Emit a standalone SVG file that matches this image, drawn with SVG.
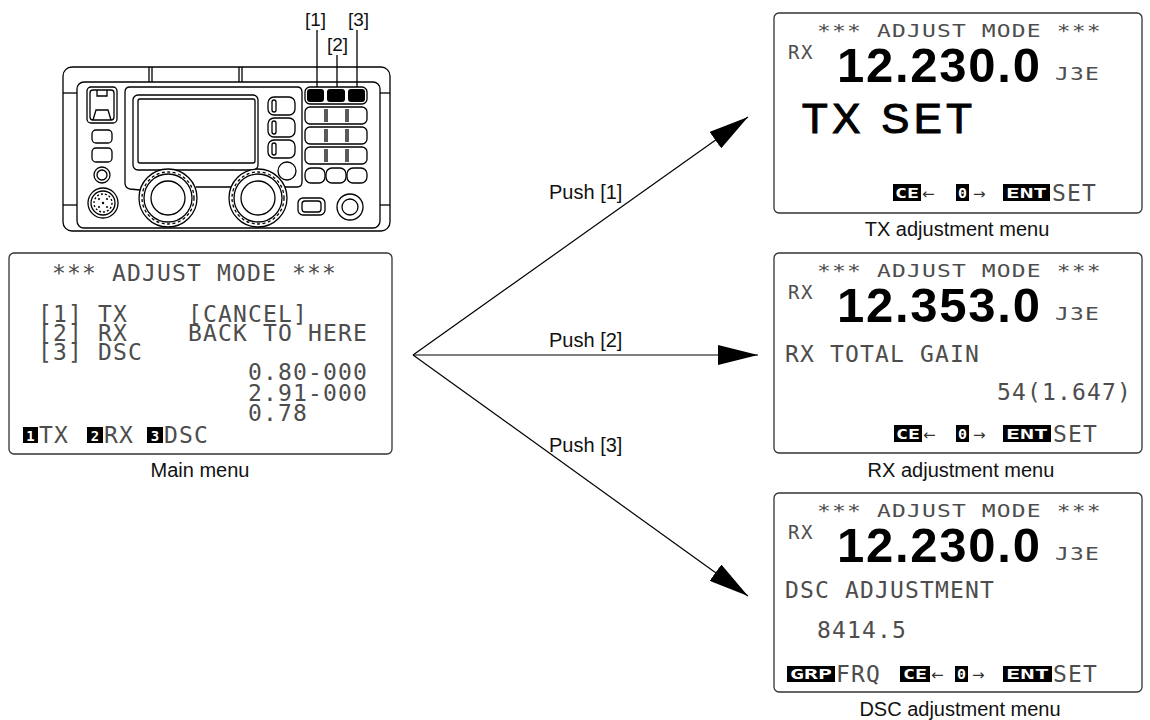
<svg xmlns="http://www.w3.org/2000/svg" width="1150" height="720" viewBox="0 0 1150 720">
<style>
.lcd{font-family:"DejaVu Sans Mono","Liberation Mono",monospace;font-size:23px;letter-spacing:1.15px;fill:#4d4d4d}
.lcds{font-family:"DejaVu Sans Mono","Liberation Mono",monospace;font-size:19px;letter-spacing:1.5px;fill:#4d4d4d}
.inv{font-family:"DejaVu Sans Mono","Liberation Mono",monospace;font-size:14px;font-weight:bold;fill:#fff}
.arr{font-family:"DejaVu Sans","Liberation Sans",sans-serif;font-size:15px;fill:#333}
.big{font-family:"Liberation Sans",Arial,sans-serif;font-weight:bold;fill:#000}
.mid{font-family:"Liberation Sans",Arial,sans-serif;fill:#000;stroke:#000;stroke-width:1.2}
.cap{font-family:"Liberation Sans",Arial,sans-serif;font-size:20px;fill:#111}
.box{fill:#fff;stroke:#333;stroke-width:1.3}
.r{fill:#fff;stroke:#000;stroke-width:1.3}
.rn{fill:none;stroke:#000;stroke-width:1.3}
.blk{fill:#000}
.conn{stroke:#000;stroke-width:1.2;fill:none}
</style>
<defs>
<marker id="ah" markerUnits="userSpaceOnUse" markerWidth="40" markerHeight="20" refX="40" refY="10" orient="auto">
<path d="M0,0 L40,10 L0,20 Z" fill="#000"/>
</marker>
</defs>

<g id="radio">
<text class="cap" x="305" y="26" style="font-size:19px">[1]</text>
<text class="cap" x="327" y="51" style="font-size:19px">[2]</text>
<text class="cap" x="348" y="26" style="font-size:19px">[3]</text>
<rect class="r" x="63" y="67" width="327" height="164" rx="9"/>
<rect class="r" x="77" y="82" width="303" height="146" rx="7"/>
<line class="rn" x1="149" y1="67" x2="149" y2="82"/><line class="rn" x1="152" y1="67" x2="152" y2="82"/>
<line class="rn" x1="239" y1="67" x2="239" y2="82"/><line class="rn" x1="242" y1="67" x2="242" y2="82"/>
<line class="rn" x1="63" y1="93" x2="77" y2="93"/><line class="rn" x1="63" y1="205" x2="77" y2="205"/>
<line class="rn" x1="380" y1="93" x2="390" y2="93"/><line class="rn" x1="380" y1="205" x2="390" y2="205"/>
<line class="rn" x1="317" y1="30" x2="317" y2="88"/>
<line class="rn" x1="337" y1="55" x2="337" y2="88"/>
<line class="rn" x1="357" y1="30" x2="357" y2="88"/>
<rect class="r" x="87" y="87" width="30" height="36" rx="4"/>
<rect class="rn" x="90" y="90" width="24" height="30" rx="3"/>
<path class="rn" d="M97,90 V96 H107 V90"/>
<path class="rn" d="M93,120 L96,110 H108 L111,120"/>
<rect class="r" x="92" y="130" width="20" height="13" rx="4"/>
<rect class="r" x="92" y="148" width="20" height="14" rx="4"/>
<circle class="r" cx="102" cy="175" r="8"/><circle class="rn" cx="102" cy="175" r="5"/>
<circle class="r" cx="103" cy="203" r="15"/><circle class="rn" cx="103" cy="203" r="12"/>
<circle class="rn" cx="103" cy="203" r="9" stroke-dasharray="2 2"/>
<circle class="blk" cx="103" cy="203" r="1.2"/><circle class="blk" cx="99" cy="199" r="1"/><circle class="blk" cx="107" cy="199" r="1"/><circle class="blk" cx="99" cy="207" r="1"/><circle class="blk" cx="107" cy="207" r="1"/>
<path class="r" d="M130,87 H297 Q302,87 302,92 V182 Q302,187 297,187 H196 M130,87 Q125,87 125,92 V183 Q125,188 130,189 L140,190"/>
<rect class="r" x="133" y="95" width="125" height="75" rx="5"/>
<rect class="rn" x="138" y="99" width="117" height="64" rx="2"/>
<rect class="r" x="268" y="97" width="27" height="18" rx="6"/><rect class="rn" x="272" y="100" width="4" height="12" rx="2"/>
<rect class="r" x="268" y="118" width="27" height="19" rx="6"/><rect class="rn" x="272" y="121" width="4" height="13" rx="2"/>
<rect class="r" x="268" y="140" width="27" height="18" rx="6"/><rect class="rn" x="272" y="143" width="4" height="12" rx="2"/>
<circle class="r" cx="287" cy="171" r="9"/>
<circle class="r" cx="168" cy="198" r="29"/>
<circle class="rn" cx="168" cy="198" r="26" stroke-dasharray="3 2.5"/>
<circle class="rn" cx="168" cy="198" r="24"/>
<circle class="r" cx="168" cy="198" r="17"/>
<circle class="r" cx="258" cy="198" r="29"/>
<circle class="rn" cx="258" cy="198" r="26" stroke-dasharray="3 2.5"/>
<circle class="rn" cx="258" cy="198" r="24"/>
<circle class="r" cx="258" cy="198" r="17"/>
<rect class="r" x="305" y="87" width="62" height="17" rx="5"/>
<rect class="blk" x="307" y="89" width="17" height="13" rx="3"/>
<rect class="blk" x="327" y="89" width="18" height="13" rx="3"/>
<rect class="blk" x="348" y="89" width="17" height="13" rx="3"/>
<rect class="r" x="305" y="107" width="62" height="17" rx="5"/>
<line class="rn" x1="325" y1="109" x2="325" y2="122"/><line class="rn" x1="327" y1="109" x2="327" y2="122"/>
<line class="rn" x1="346" y1="109" x2="346" y2="122"/><line class="rn" x1="348" y1="109" x2="348" y2="122"/>
<rect class="r" x="305" y="127" width="62" height="17" rx="5"/>
<line class="rn" x1="325" y1="129" x2="325" y2="142"/><line class="rn" x1="327" y1="129" x2="327" y2="142"/>
<line class="rn" x1="346" y1="129" x2="346" y2="142"/><line class="rn" x1="348" y1="129" x2="348" y2="142"/>
<rect class="r" x="305" y="147" width="62" height="17" rx="5"/>
<line class="rn" x1="325" y1="149" x2="325" y2="162"/><line class="rn" x1="327" y1="149" x2="327" y2="162"/>
<line class="rn" x1="346" y1="149" x2="346" y2="162"/><line class="rn" x1="348" y1="149" x2="348" y2="162"/>
<rect class="r" x="305" y="168" width="20" height="15" rx="6"/>
<rect class="r" x="326" y="168" width="20" height="15" rx="6"/>
<rect class="r" x="347" y="168" width="20" height="15" rx="6"/>
<rect class="r" x="298" y="198" width="27" height="17" rx="5"/><rect class="rn" x="302" y="201" width="19" height="11" rx="3"/>
<circle class="r" cx="350" cy="207" r="13" stroke-width="2"/><circle class="rn" cx="350" cy="207" r="8" stroke-width="2"/>
</g>

<g id="main-menu">
<rect class="box" x="9" y="253" width="383" height="201" rx="5"/>
<text class="lcd" x="52" y="281">*** ADJUST MODE ***</text>
<text class="lcd"><tspan x="38" y="322">[1] TX</tspan><tspan x="38" y="341">[2] RX</tspan><tspan x="38" y="360">[3] DSC</tspan></text>
<text class="lcd"><tspan x="188" y="322">[CANCEL]</tspan><tspan x="188" y="341">BACK TO HERE</tspan></text>
<text class="lcd"><tspan x="248" y="380">0.80-000</tspan><tspan x="248" y="401">2.91-000</tspan><tspan x="248" y="421">0.78</tspan></text>
<rect class="blk" x="23" y="427" width="15" height="16"/><text class="inv" x="30.5" y="441" text-anchor="middle">1</text>
<text class="lcd" x="39" y="443">TX</text>
<rect class="blk" x="87" y="427" width="16" height="16"/><text class="inv" x="95" y="441" text-anchor="middle">2</text>
<text class="lcd" x="104" y="443">RX</text>
<rect class="blk" x="147" y="427" width="16" height="16"/><text class="inv" x="155" y="441" text-anchor="middle">3</text>
<text class="lcd" x="164" y="443">DSC</text>
<text class="cap" x="200" y="477" text-anchor="middle">Main menu</text>
</g>

<g id="tx-menu" transform="translate(774,13)">
<rect class="box" x="0" y="0" width="368" height="200" rx="5"/>
<text class="lcd" transform="translate(43,24) scale(1,0.74)">*** ADJUST MODE ***</text>
<text class="lcds" x="14" y="46">RX</text>
<text class="big" x="63" y="69" style="font-size:49px" textLength="203" lengthAdjust="spacing">12.230.0</text>
<text class="lcd" transform="translate(281,67) scale(1,0.74)">J3E</text>
<text class="mid" x="28" y="120" style="font-size:42px" textLength="170" lengthAdjust="spacing">TX SET</text>
<rect class="blk" x="119" y="171" width="28" height="17"/><text class="inv" x="121" y="185" textLength="24" lengthAdjust="spacingAndGlyphs">CE</text>
<text class="arr" x="148" y="186">←</text>
<rect class="blk" x="182" y="171" width="13" height="17"/><text class="inv" x="184" y="185" textLength="9" lengthAdjust="spacingAndGlyphs">0</text>
<text class="arr" x="199" y="186">→</text>
<rect class="blk" x="229" y="171" width="47" height="17"/><text class="inv" x="232" y="185" textLength="41" lengthAdjust="spacingAndGlyphs">ENT</text>
<text class="lcd" x="278" y="188">SET</text>
<text class="cap" x="183" y="223" text-anchor="middle">TX adjustment menu</text>
</g>

<g id="rx-menu" transform="translate(774,253)">
<rect class="box" x="0" y="0" width="368" height="200" rx="5"/>
<text class="lcd" transform="translate(43,24) scale(1,0.74)">*** ADJUST MODE ***</text>
<text class="lcds" x="14" y="46">RX</text>
<text class="big" x="63" y="69" style="font-size:49px" textLength="203" lengthAdjust="spacing">12.353.0</text>
<text class="lcd" transform="translate(281,67) scale(1,0.74)">J3E</text>
<text class="lcd" x="11" y="109">RX TOTAL GAIN</text>
<text class="lcd" x="223" y="147">54(1.647)</text>
<rect class="blk" x="120" y="172" width="28" height="17"/><text class="inv" x="122" y="186" textLength="24" lengthAdjust="spacingAndGlyphs">CE</text>
<text class="arr" x="149" y="187">←</text>
<rect class="blk" x="182" y="172" width="13" height="17"/><text class="inv" x="184" y="186" textLength="9" lengthAdjust="spacingAndGlyphs">0</text>
<text class="arr" x="199" y="187">→</text>
<rect class="blk" x="229" y="172" width="48" height="17"/><text class="inv" x="232" y="186" textLength="42" lengthAdjust="spacingAndGlyphs">ENT</text>
<text class="lcd" x="279" y="189">SET</text>
<text class="cap" x="187" y="224" text-anchor="middle">RX adjustment menu</text>
</g>

<g id="dsc-menu" transform="translate(774,493)">
<rect class="box" x="0" y="0" width="368" height="199" rx="5"/>
<text class="lcd" transform="translate(43,24) scale(1,0.74)">*** ADJUST MODE ***</text>
<text class="lcds" x="14" y="46">RX</text>
<text class="big" x="63" y="69" style="font-size:49px" textLength="203" lengthAdjust="spacing">12.230.0</text>
<text class="lcd" transform="translate(281,67) scale(1,0.74)">J3E</text>
<text class="lcd" x="11" y="105">DSC ADJUSTMENT</text>
<text class="lcd" x="43" y="145">8414.5</text>
<rect class="blk" x="13" y="173" width="48" height="16"/><text class="inv" x="16" y="186" textLength="42" lengthAdjust="spacingAndGlyphs">GRP</text>
<text class="lcd" x="62" y="189">FRQ</text>
<rect class="blk" x="126" y="173" width="30" height="16"/><text class="inv" x="129" y="186" textLength="24" lengthAdjust="spacingAndGlyphs">CE</text>
<text class="arr" x="157" y="187">←</text>
<rect class="blk" x="181" y="173" width="13" height="16"/><text class="inv" x="183" y="186" textLength="9" lengthAdjust="spacingAndGlyphs">0</text>
<text class="arr" x="198" y="187">→</text>
<rect class="blk" x="229" y="173" width="49" height="16"/><text class="inv" x="232" y="186" textLength="43" lengthAdjust="spacingAndGlyphs">ENT</text>
<text class="lcd" x="279" y="189">SET</text>
<text class="cap" x="186" y="223" text-anchor="middle">DSC adjustment menu</text>
</g>

<g id="connectors">
<line class="conn" x1="413" y1="355" x2="748" y2="117" marker-end="url(#ah)"/>
<line class="conn" x1="413" y1="355" x2="758" y2="355" marker-end="url(#ah)"/>
<line class="conn" x1="413" y1="355" x2="748" y2="596" marker-end="url(#ah)"/>
<text class="cap" x="549" y="199">Push [1]</text>
<text class="cap" x="549" y="347">Push [2]</text>
<text class="cap" x="549" y="452">Push [3]</text>
</g>
</svg>
